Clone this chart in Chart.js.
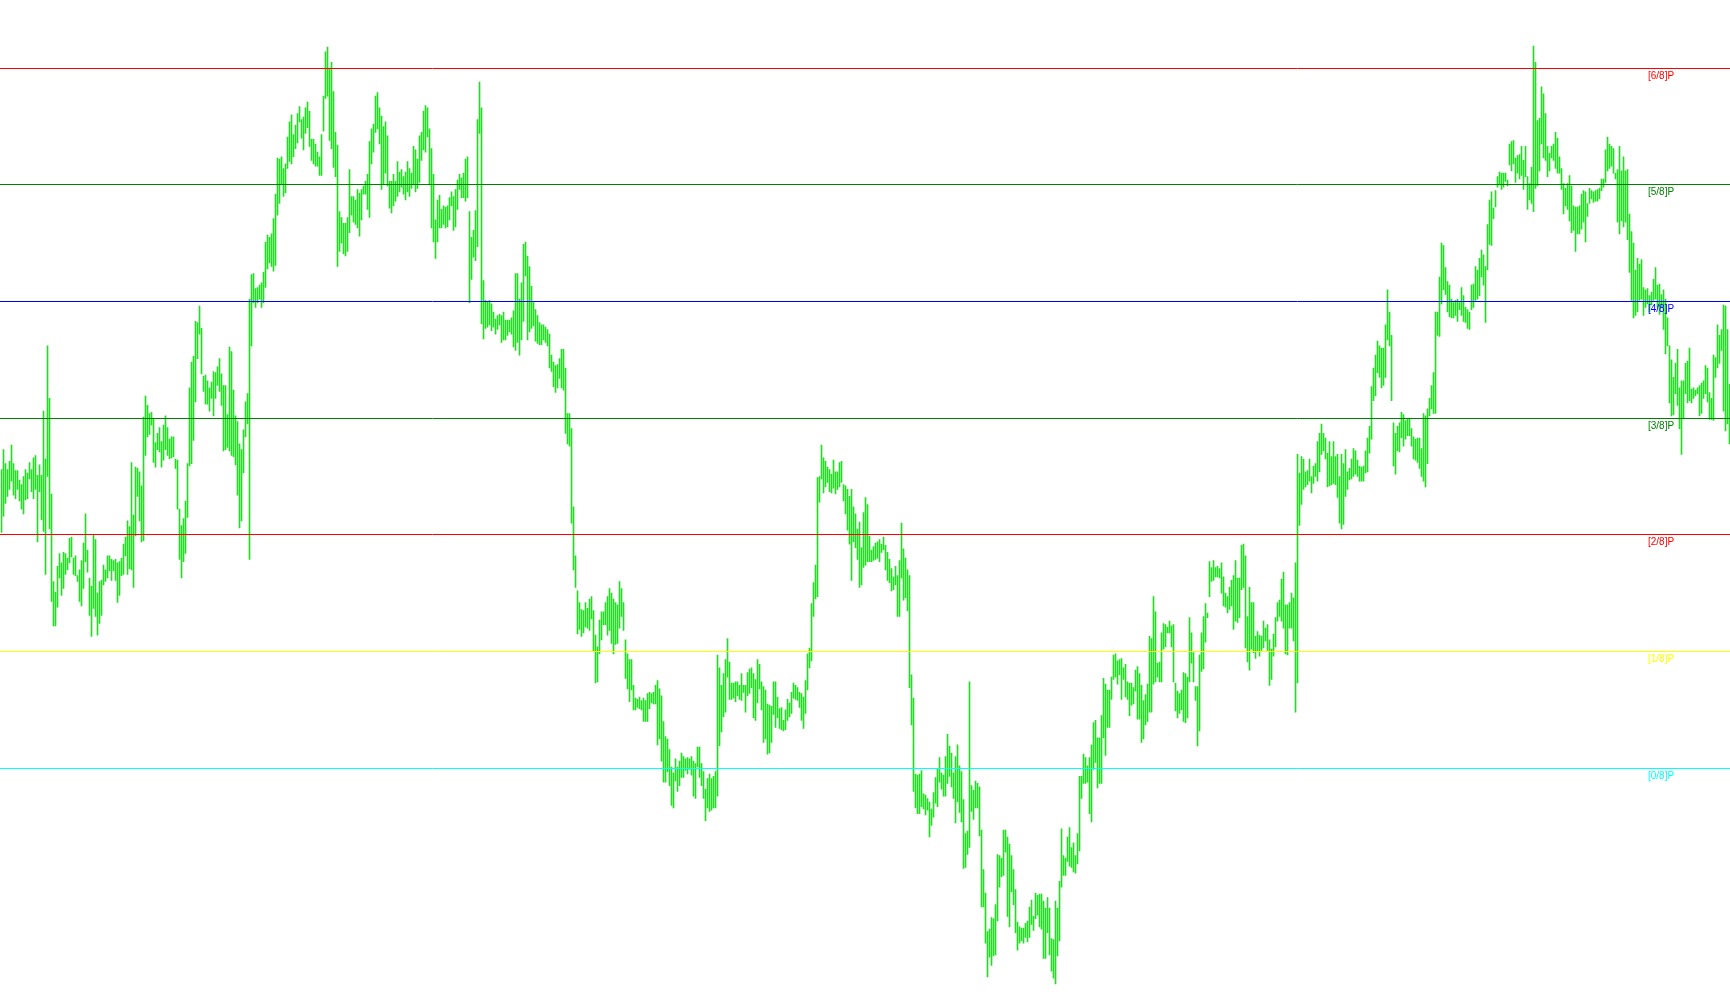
<!DOCTYPE html>
<html>
<head>
<meta charset="utf-8">
<title>Murrey Math</title>
<script src="https://cdn.jsdelivr.net/npm/chart.js@4.4.1/dist/chart.umd.min.js"></script>
<style>
    html, body { margin: 0; padding: 0; background: #fff; overflow: hidden; }
    #wrap { width: 1730px; height: 1005px; position: relative; }
</style>
</head>
<body>
<div id="wrap"><canvas id="chart-precio"></canvas></div>
<script>
// Barras (maximo / minimo), de izquierda a derecha
const highs = [
    1256,1273,1261,1256,1263,1277,1261,1255,1255,1247,1243,1250,1256,1253,1262,1256,1266,1268,1251,1260,
    1251,1306,1265,1362,1317,1235,1160,1151,1173,1184,1176,1185,1184,1180,1197,1198,1180,1182,1165,1170,
    1178,1193,1218,1187,1163,1156,1200,1196,1150,1160,1161,1174,1170,1182,1182,1179,1178,1179,1176,1177,
    1180,1192,1198,1212,1207,1262,1217,1258,1257,1254,1242,1301,1319,1311,1304,1305,1299,1279,1287,1292,
    1280,1294,1302,1292,1282,1284,1284,1265,1264,1222,1208,1214,1229,1261,1326,1348,1353,1383,1382,1396,
    1377,1336,1337,1332,1326,1331,1340,1339,1344,1351,1338,1328,1328,1303,1361,1357,1324,1302,1297,1278,
    1273,1290,1314,1321,1402,1423,1424,1411,1412,1414,1416,1425,1451,1457,1455,1458,1471,1492,1523,1522,
    1524,1514,1518,1541,1554,1560,1543,1551,1561,1567,1556,1558,1566,1571,1563,1539,1539,1535,1528,1524,
    1543,1576,1614,1618,1600,1605,1580,1545,1534,1477,1472,1467,1467,1472,1513,1490,1490,1487,1496,1493,
    1496,1499,1503,1509,1537,1548,1552,1576,1579,1566,1559,1550,1554,1542,1503,1503,1509,1503,1520,1511,
    1513,1507,1511,1520,1514,1510,1533,1530,1522,1542,1545,1563,1568,1566,1548,1531,1509,
    1470,1487,1491,1479,1482,1481,1482,1489,1494,1490,1496,1504,1509,1506,1510,1522,1524,1477,1455,1461,
    1478,1556,1588,1566,1418,1401,1400,1401,1398,1391,1385,1388,1389,1388,1391,1384,1384,1384,1386,1392,
    1424,1424,1402,1416,1449,1451,1439,1430,1413,1399,1393,1388,1382,1380,1380,1378,1376,1372,1354,1348,
    1345,1346,1351,1359,1359,1343,1304,1304,1291,1224,1182,1152,1142,1136,1135,1142,1137,1145,1147,1135,
    1114,1104,1127,1134,1134,1142,1147,1154,1150,1145,1142,1140,1160,1154,1142,1110,1098,1093,1093,1071,
    1060,1059,1061,1058,1060,1058,1064,1065,1064,1065,1071,1075,1068,1062,1040,1027,1025,1016,1001,996,
    1008,1001,1006,1013,1010,1008,1009,1008,1010,1006,1004,1018,1018,1004,997,982,991,995,991,993,
    997,1097,1086,1071,1081,1093,1111,1091,1073,1073,1074,1074,1071,1081,1071,1071,1082,1085,1086,1081,
    1076,1093,1089,1074,1070,1067,1055,1054,1053,1074,1074,1061,1051,1052,1041,1050,1059,1056,1065,1073,
    1071,1069,1065,1064,1061,1075,1098,1103,1141,1159,1174,1249,1250,1277,1266,1263,1258,1256,1252,1264,
    1254,1254,1262,1263,1243,1242,1239,1233,1239,1224,1218,1205,1211,1189,1219,1232,1226,1199,
    1187,1190,1193,1194,1196,1192,1198,1191,1185,1179,1171,1164,1173,1165,1178,1210,1188,1180,1170,1165,
    1080,1060,995,994,995,998,978,977,974,971,965,979,992,999,1009,996,994,1010,1029,1019,
    1013,996,1010,1020,1002,997,973,944,946,1074,985,981,989,987,984,947,913,893,860,862,
    872,871,883,926,925,923,947,947,941,935,925,913,896,868,864,863,863,867,869,881,
    887,873,893,891,892,892,886,880,889,880,854,853,886,880,903,948,925,923,941,949,
    932,936,925,944,993,993,1012,1009,1002,1009,1020,1039,1041,1026,1026,1045,1077,1072,1067,1067,
    1078,1097,1098,1092,1093,1094,1086,1089,1074,1073,1073,1069,1084,1087,1081,1071,1058,1063,1072,1113,
    1111,1147,1134,1090,1091,1116,1124,1123,1121,1126,1122,1123,1073,1066,1064,1067,1082,1081,1078,1129,
    1116,1099,1070,1070,1097,1116,1130,1141,1133,1177,1172,1178,1172,1173,1171,1176,1164,1150,1147,1155,
    1161,1165,1178,1163,1163,1191,1192,1182,1130,1155,1142,1142,1113,1117,1114,1113,1126,1120,1123,1110,
    1102,1115,1129,1142,1144,1162,1168,1140,1140,1142,1150,1146,1176,1269,1253,1267,1265,
    1254,1255,1265,1250,1259,1261,1280,1287,1295,1287,1283,1270,1280,1267,1280,1267,1269,1250,1269,1261,
    1273,1254,1257,1265,1274,1272,1264,1259,1258,1259,1272,1283,1293,1327,1343,1354,1366,1362,1360,1360,
    1380,1410,1391,1371,1296,1287,1293,1296,1305,1303,1298,1299,1300,1291,1284,1282,1283,1283,1274,1304,
    1302,1308,1317,1328,1339,1391,1391,1421,1450,1448,1429,1417,1414,1402,1399,1401,1402,1399,1412,1405,
    1395,1393,1391,1414,1415,1430,1427,1437,1444,1440,1430,1466,1487,1494,1480,1495,1507,1511,1510,1510,
    1510,1504,1535,1537,1538,1523,1525,1526,1533,1521,1533,1507,1501,1515,1619,1605,1555,1557,1584,1578,
    1561,1533,1527,1533,1535,1545,1540,1524,1514,1501,1497,1501,1508,1499,1482,1481,1481,1482,1492,1495,
    1494,1484,1497,1495,1494,1495,1496,1497,1505,1505,1530,1541,1535,1533,1531,1510,1513,1533,1512,1524,
    1512,1513,1475,1460,1450,1427,1437,1432,1436,1412,1410,1411,1405,1408,1419,1429,1414,1415,1406,1410,
    1402,1386,1362,1350,1335,1347,1359,1326,1332,1332,1347,1349,1360,1325,1326,1324,1326,1328,1330,1332,
    1345,1343,1322,1317,1354,1352,1380,1371,1376,1397,1396,1376,1329
];

const lows = [
    1202,1216,1227,1233,1239,1246,1234,1231,1239,1229,1222,1218,1230,1231,1248,1237,1231,1239,1194,1237,
    1213,1203,1166,1250,1205,1143,1122,1122,1138,1163,1148,1154,1166,1170,1176,1181,1166,1165,1160,1143,
    1139,1154,1177,1168,1131,1113,1137,1130,1114,1124,1131,1157,1160,1163,1169,1161,1169,1161,1142,1148,
    1165,1166,1182,1166,1171,1170,1155,1199,1233,1212,1194,1195,1268,1284,1286,1294,1262,1258,1273,1271,
    1258,1264,1273,1268,1265,1266,1267,1257,1222,1179,1163,1177,1184,1215,1259,1261,1281,1314,1351,1372,
    1338,1323,1312,1312,1306,1317,1302,1317,1328,1323,1311,1272,1273,1275,1272,1268,1267,1260,1234,1206,
    1212,1253,1284,1295,1179,1362,1399,1395,1399,1402,1395,1399,1412,1428,1433,1430,1426,1431,1474,1484,
    1501,1490,1493,1514,1520,1518,1524,1531,1536,1554,1540,1530,1544,1549,1533,1521,1518,1516,1516,1508,
    1508,1546,1574,1576,1538,1531,1515,1507,1430,1443,1450,1441,1439,1443,1459,1474,1468,1466,1463,1456,
    1470,1492,1492,1479,1472,1518,1528,1545,1548,1535,1496,1501,1510,1499,1480,1476,1482,1486,1490,1494,
    1498,1492,1487,1494,1490,1497,1501,1494,1497,1502,1521,1530,1528,1541,1501,1463,1451,
    1437,1451,1463,1463,1466,1463,1464,1470,1482,1461,1464,1479,1496,1489,1489,1486,1489,1399,1419,1438,
    1435,1447,1544,1381,1368,1377,1378,1380,1375,1378,1372,1376,1380,1365,1367,1367,1371,1374,1372,1361,
    1358,1365,1354,1367,1383,1422,1367,1374,1377,1379,1366,1364,1363,1363,1367,1365,1362,1343,1340,1327,
    1322,1326,1334,1326,1324,1287,1278,1276,1210,1170,1155,1115,1119,1113,1116,1121,1120,1118,1128,1100,
    1073,1074,1098,1110,1123,1123,1114,1118,1107,1098,1106,1107,1120,1130,1118,1077,1068,1057,1067,1050,
    1050,1052,1051,1050,1040,1040,1040,1051,1056,1055,1055,1020,1025,1006,988,988,997,985,968,966,
    989,980,985,992,992,998,995,999,994,976,974,1001,992,985,974,955,966,963,964,966,
    966,976,1019,1031,1044,1048,1078,1059,1059,1060,1057,1062,1059,1058,1065,1048,1062,1064,1069,1043,
    1041,1056,1068,1050,1022,1025,1012,1013,1022,1046,1035,1043,1034,1033,1032,1033,1041,1044,1047,1060,
    1059,1058,1052,1041,1034,1047,1067,1086,1092,1130,1145,1147,1228,1248,1236,1241,1245,1237,1236,1240,
    1235,1239,1241,1245,1229,1218,1204,1192,1161,1194,1189,1179,1155,1157,1172,1174,1177,1177,
    1177,1178,1179,1180,1177,1185,1187,1170,1161,1159,1152,1153,1157,1130,1130,1163,1144,1146,1135,1069,
    1037,980,966,961,961,967,965,960,964,941,951,958,970,967,988,982,976,976,987,993,
    984,974,953,971,962,954,914,915,926,932,963,956,966,966,942,881,881,850,821,838,
    831,839,840,869,898,907,908,928,873,864,894,883,859,844,850,852,850,855,851,855,
    866,861,871,874,864,862,837,837,859,840,826,820,815,839,852,898,908,908,920,916,
    915,911,910,918,929,974,987,987,988,961,954,999,1005,983,987,987,1026,1011,1035,1035,
    1059,1076,1078,1072,1080,1059,1076,1061,1059,1045,1054,1055,1066,1042,1042,1022,1025,1037,1040,1048,
    1048,1072,1074,1078,1074,1074,1102,1104,1116,1116,1104,1074,1049,1043,1047,1050,1040,1039,1043,1074,
    1090,1074,1058,1019,1032,1083,1085,1108,1129,1147,1160,1161,1164,1164,1163,1150,1139,1138,1133,1136,
    1139,1119,1126,1125,1129,1153,1155,1103,1091,1084,1102,1099,1094,1100,1096,1101,1103,1109,1101,1071,
    1076,1096,1104,1126,1130,1126,1120,1098,1097,1120,1120,1109,1048,1073,1208,1226,1239,
    1241,1243,1246,1236,1244,1250,1246,1254,1269,1272,1265,1241,1242,1243,1244,1243,1232,1210,1205,1209,
    1233,1239,1247,1248,1250,1252,1250,1246,1246,1246,1253,1254,1270,1282,1315,1319,1339,1335,1326,1328,
    1335,1367,1362,1315,1259,1252,1272,1271,1283,1276,1282,1285,1285,1276,1265,1264,1262,1257,1250,1246,
    1241,1261,1302,1308,1304,1304,1371,1370,1398,1410,1406,1391,1387,1386,1386,1388,1383,1393,1388,1383,
    1382,1377,1376,1393,1395,1401,1402,1405,1421,1414,1382,1427,1449,1448,1471,1481,1498,1500,1496,1498,
    1503,1499,1517,1512,1518,1502,1510,1505,1508,1496,1507,1479,1487,1484,1477,1497,1499,1512,1535,1523,
    1521,1507,1512,1523,1521,1514,1510,1510,1496,1475,1482,1479,1469,1459,1461,1443,1458,1458,1462,1468,
    1451,1473,1484,1488,1485,1486,1486,1488,1495,1498,1502,1512,1514,1516,1510,1505,1468,1458,1469,1464,
    1468,1453,1425,1401,1386,1388,1391,1401,1402,1388,1395,1398,1391,1397,1401,1402,1395,1389,1395,1376,
    1355,1362,1313,1302,1303,1321,1311,1291,1269,1300,1321,1313,1315,1313,1317,1319,1321,1302,1304,1317,
    1321,1314,1299,1299,1298,1335,1343,1347,1358,1306,1289,1295,1278
];

// Niveles Murrey (0/8 .. 6/8)
const levels = [1000, 1100, 1200, 1300, 1400, 1500, 1600];
const levelNames = ['[0/8]P', '[1/8]P', '[2/8]P', '[3/8]P', '[4/8]P', '[5/8]P', '[6/8]P'];
const levelColors = ['#00ffff', '#ffff00', '#ff0000', '#008000', '#0000ff', '#008000', '#ff0000'];

const barras = highs.map((_, i) => i + 1);

// Medio pixel a la derecha para que las barras de 1px queden nitidas
const nitidezPlugin = {
    id: 'nitidez',
    beforeDatasetsDraw(chart) {
        chart.ctx.save();
        chart.ctx.translate(0.5, 0);
    },
    afterDatasetsDraw(chart) {
        chart.ctx.restore();
    }
};

// Lineas horizontales con su etiqueta, encima de las barras
const nivelesPlugin = {
    id: 'niveles',
    afterDatasetsDraw(chart) {
        const { ctx, chartArea, scales } = chart;
        ctx.save();
        ctx.lineWidth = 1;
        ctx.font = '10px "Liberation Sans", Arial, sans-serif';
        ctx.textBaseline = 'alphabetic';
        levels.forEach((lv, k) => {
            const py = Math.floor(scales.y.getPixelForValue(lv));
            ctx.strokeStyle = levelColors[k];
            ctx.beginPath();
            ctx.moveTo(chartArea.left, py + 0.5);
            ctx.lineTo(chartArea.right, py + 0.5);
            ctx.stroke();
            ctx.fillStyle = levelColors[k];
            ctx.fillText(levelNames[k], chartArea.right - 82, py + 11);
        });
        ctx.restore();
    }
};

const ctx = document.getElementById('chart-precio');

new Chart(ctx, {
    type: 'bar',
    data: {
        labels: barras,
        datasets: [{
            label: 'Precio',
            data: barras.map((_, i) => [lows[i], highs[i]]),
            backgroundColor: '#22dd22',
            borderWidth: 0,
            barThickness: 1
        }]
    },
    options: {
        responsive: true,
        maintainAspectRatio: false,
        animation: false,
        devicePixelRatio: 1,
        events: [],
        layout: { padding: 0 },
        plugins: {
            legend: { display: false },
            tooltip: { enabled: false }
        },
        scales: {
            x: {
                display: false,
                grid: { display: false }
            },
            y: {
                display: false,
                min: 796.97,
                max: 1658.4,
                grid: { display: false }
            }
        }
    },
    plugins: [nitidezPlugin, nivelesPlugin]
});
</script>
</body>
</html>
